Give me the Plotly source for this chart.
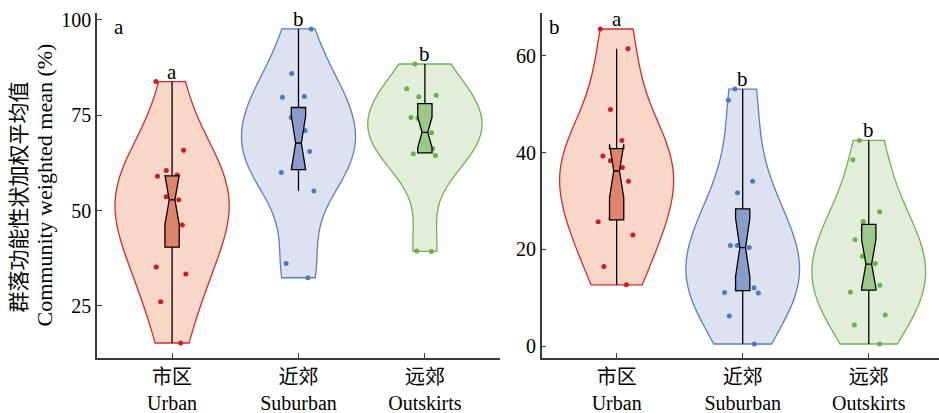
import plotly.graph_objects as go

# ---------------- data ----------------
categories = ["市区<br>Urban", "近郊<br>Suburban", "远郊<br>Outskirts"]
group_names = ["Urban", "Suburban", "Outskirts"]

# Panel a : community weighted mean (%)
urban_a = [83.8, 65.8, 60.5, 59.3, 59.0, 53.6, 52.8, 46.5, 46.2, 45.7, 35.2, 33.4, 26.1, 15.3]
suburban_a = [97.6, 85.9, 79.9, 79.7, 74.4, 71.0, 67.2, 65.5, 61.6, 60.0, 55.1, 36.1, 32.4]
outskirts_a = [88.4, 81.9, 80.2, 79.8, 76.9, 74.4, 74.2, 70.4, 69.2, 66.2, 65.8, 64.4, 64.9, 39.3, 39.4]

# Panel b
urban_b = [65.5, 61.4, 48.9, 42.5, 39.3, 38.3, 36.9, 35.3, 34.1, 26.5, 25.7, 23.0, 16.5, 12.7]
suburban_b = [53.1, 50.8, 34.1, 31.7, 25.4, 20.8, 20.8, 20.4, 16.2, 12.1, 11.8, 11.1, 11.0, 6.3, 0.5]
outskirts_b = [42.5, 38.5, 27.8, 25.8, 24.6, 22.0, 18.6, 17.1, 12.9, 12.6, 12.4, 11.2, 6.5, 4.4, 0.5]

# box statistics (Urban, Suburban, Outskirts)
q1_a = [40.4, 60.7, 65.1]
med_a = [52.8, 67.7, 70.5]
q3_a = [59.1, 77.0, 78.0]
lo_a = [15.3, 55.1, 65.1]
hi_a = [83.8, 97.6, 88.4]
notch_a = [6.5, 7.0, 4.0]

q1_b = [26.1, 11.5, 11.6]
med_b = [36.2, 20.4, 17.0]
q3_b = [40.8, 28.4, 25.2]
lo_b = [12.7, 0.5, 0.5]
hi_b = [61.4, 53.1, 42.5]
notch_b = [5.5, 6.0, 5.0]

letters_a = ["a", "b", "b"]
letters_b = ["a", "b", "b"]

# ---------------- styles ----------------
bw_a = [13, 10, 9]
bw_b = [10, 10, 8.5]
violin_fill = ["rgba(240,170,140,0.48)", "rgba(180,188,222,0.45)", "rgba(190,216,172,0.45)"]
violin_line = ["#D42A2A", "#5A7EC2", "#72B052"]
box_fill = ["#E0836A", "#8A9CCB", "#9CC88A"]
point_col = ["#D01C1F", "#4E79C4", "#6AAF47"]

FONT = "'Liberation Serif', 'Times New Roman', 'Noto Sans CJK SC', serif"
AX_COL = "#3a3a3a"

fig = go.Figure()


def add_panel(datasets, q1, med, q3, lo, hi, notch, letters, bws, xa, ya):
    for i, d in enumerate(datasets):
        # violin outline / fill
        fig.add_trace(go.Violin(
            y=d, x0=i, xaxis=xa, yaxis=ya, width=0.9, bandwidth=bws[i],
            spanmode="hard", scalemode="width", points=False,
            fillcolor=violin_fill[i], line=dict(color=violin_line[i], width=1.3),
            box_visible=False, meanline_visible=False, showlegend=False,
            hoverinfo="skip",
        ))
    for i in range(len(datasets)):
        # notched box
        fig.add_trace(go.Box(
            x=[i], q1=[q1[i]], median=[med[i]], q3=[q3[i]],
            lowerfence=[lo[i]], upperfence=[hi[i]], notchspan=[notch[i]],
            notched=True, notchwidth=0.3, width=0.113, whiskerwidth=0,
            fillcolor=box_fill[i], line=dict(color="black", width=1.3),
            xaxis=xa, yaxis=ya, boxpoints=False, showlegend=False,
        ))
    for i, d in enumerate(datasets):
        # jittered sample points on top
        fig.add_trace(go.Violin(
            y=d, x0=i, xaxis=xa, yaxis=ya, width=0.9, bandwidth=bws[i],
            spanmode="hard", points="all", pointpos=0, jitter=0.4,
            fillcolor="rgba(0,0,0,0)", line=dict(width=0),
            marker=dict(color=point_col[i], size=5),
            box_visible=False, showlegend=False, hoverinfo="skip",
        ))
    for i, d in enumerate(datasets):
        fig.add_annotation(
            x=i, y=max(d), xref=xa, yref=ya, text=letters[i], showarrow=False,
            yanchor="bottom", yshift=-4, font=dict(family=FONT, size=21, color="black"),
        )


add_panel([urban_a, suburban_a, outskirts_a], q1_a, med_a, q3_a, lo_a, hi_a, notch_a, letters_a, bw_a, "x", "y")
add_panel([urban_b, suburban_b, outskirts_b], q1_b, med_b, q3_b, lo_b, hi_b, notch_b, letters_b, bw_b, "x2", "y2")

axis_common = dict(
    showline=True, linecolor=AX_COL, linewidth=1.5, ticks="inside", ticklen=5,
    tickcolor=AX_COL, tickwidth=1.3, showgrid=False, zeroline=False, automargin=False,
    tickfont=dict(family=FONT, size=20, color="black"),
)

fig.update_layout(
    width=939, height=413,
    margin=dict(l=97, r=0, t=13, b=55),
    paper_bgcolor="white", plot_bgcolor="white",
    violinmode="overlay", boxmode="overlay",
    font=dict(family=FONT, color="black"),
    xaxis=dict(domain=[0, 0.4786], range=[-0.594, 2.594], tickvals=[0, 1, 2],
               ticktext=categories, **axis_common),
    yaxis=dict(range=[11.37, 101.76], tickvals=[25, 50, 75, 100], **axis_common),
    xaxis2=dict(domain=[0.5282, 1], range=[-0.594, 2.557], tickvals=[0, 1, 2],
                ticktext=categories, anchor="y2", **axis_common),
    yaxis2=dict(range=[-2.39, 68.8], tickvals=[0, 20, 40, 60], anchor="x2", **axis_common),
)

# panel labels
fig.add_annotation(x=0.036, y=1.0, xref="x domain", yref="y domain", text="a", showarrow=False,
                   xanchor="left", yanchor="top", font=dict(family=FONT, size=21))
fig.add_annotation(x=0.014, y=1.0, xref="x2 domain", yref="y2 domain", text="b", showarrow=False,
                   xanchor="left", yanchor="top", font=dict(family=FONT, size=21))

# y-axis title (two lines)
fig.add_annotation(x=(17 - 97) / 842, y=0.465, xref="paper", yref="paper", text="群落功能性状加权平均值",
                   textangle=-90, showarrow=False, xanchor="center", yanchor="middle",
                   font=dict(family="'Noto Sans CJK SC', sans-serif", size=21))
fig.add_annotation(x=(44 - 97) / 842, y=0.5, xref="paper", yref="paper", text="Community weighted mean (%)",
                   textangle=-90, showarrow=False, xanchor="center", yanchor="middle",
                   font=dict(family=FONT, size=22))

fig.write_html("out.html", config={"displayModeBar": False},
               post_script="document.body.style.margin='0px';")
